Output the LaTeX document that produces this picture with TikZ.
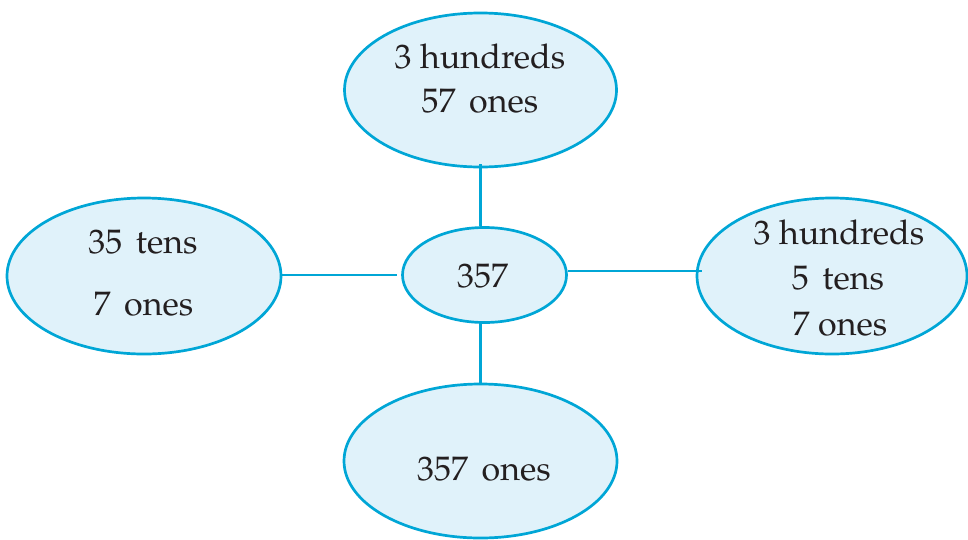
\documentclass[tikz,border=0pt]{standalone}
\usepackage[T1]{fontenc}
\usepackage{mathpazo}
\usetikzlibrary{shapes.geometric}
\definecolor{edgeblue}{RGB}{0,166,214}
\definecolor{fillblue}{RGB}{224,242,250}
\definecolor{inkgray}{RGB}{35,31,32}
\newcommand\gapsp{\hspace{0.4em}}
\tikzset{
  bubble/.style={ellipse, draw=edgeblue, fill=fillblue, line width=2.7pt, inner sep=0pt},
  lbl/.style={anchor=base, inner sep=0pt, text=inkgray, font=\fontsize{34}{40}\selectfont},
  link/.style={draw=edgeblue, line width=2.7pt}
}
\begin{document}
\begin{tikzpicture}[x=1pt,y=-1pt]
\useasboundingbox (0,0) rectangle (968,539);
% bubbles
\node[bubble, minimum width=272pt, minimum height=154pt] (top) at (480.5,90) {};
\node[bubble, minimum width=164pt, minimum height=95pt] (mid) at (484.5,275) {};
\node[bubble, minimum width=274pt, minimum height=156pt] (left) at (144,276) {};
\node[bubble, minimum width=270pt, minimum height=156pt] (right) at (832,276) {};
\node[bubble, minimum width=273pt, minimum height=154pt] (bottom) at (480.5,461) {};
% connectors
\draw[link] ([yshift=4pt]top.south) -- (top.south |- mid.north);
\draw[link] (bottom.north |- mid.south) -- (bottom.north);
\draw[link] (left.east |- mid.west) -- ([xshift=-4pt]mid.west);
\draw[link] ([yshift=4pt]mid.east) -- ([xshift=6pt,yshift=5pt]right.west);
% labels
\node[lbl] (t1) at (480,68) {3 hundreds};
\node[lbl] (t2) at (480,112) {57\gapsp ones};
\node[lbl] (m1) at (482.5,287) {357};
\node[lbl] (l1) at (143,253) {35\gapsp tens};
\node[lbl] (l2) at (143.5,315) {7\gapsp ones};
\node[lbl] (r1) at (839,244) {3 hundreds};
\node[lbl] (r2) at (838,289) {5\gapsp tens};
\node[lbl] (r3) at (840,335) {7 ones};
\node[lbl] (b1) at (484,480) {357\gapsp ones};
\end{tikzpicture}
\end{document}
